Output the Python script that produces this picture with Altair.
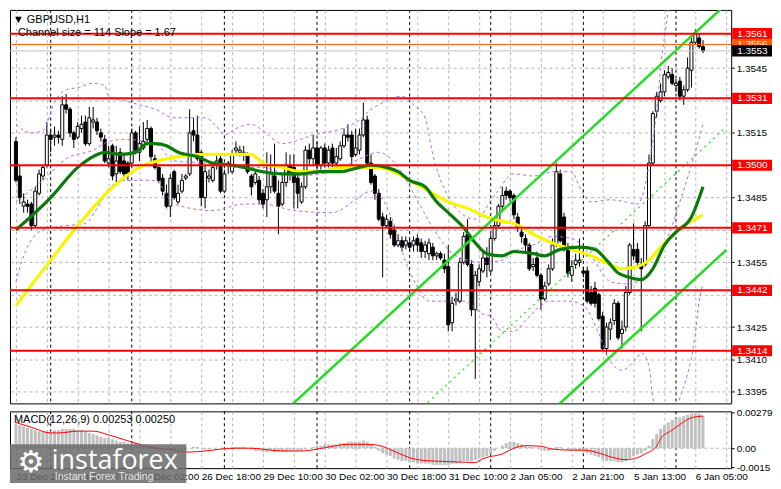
import altair as alt
import pandas as pd

# ---------------- data (H1 bars, index 0 = 23 Dec 15:00) ----------------
bar_open = [
1.3511, 1.3495, 1.3481, 1.3482, 1.3482, 1.3472, 1.3487, 1.3495, 1.3500, 1.3514,
1.3513, 1.3514, 1.3512, 1.3528, 1.3526, 1.3515, 1.3513, 1.3517, 1.3520, 1.3510,
1.3520, 1.3520, 1.3515, 1.3512, 1.3501, 1.3509, 1.3496, 1.3506, 1.3502, 1.3501,
1.3501, 1.3515, 1.3506, 1.3508, 1.3512, 1.3517, 1.3503, 1.3499, 1.3494, 1.3487,
1.3481, 1.3497, 1.3483, 1.3488, 1.3494, 1.3496, 1.3516, 1.3514, 1.3506, 1.3485,
1.3494, 1.3493, 1.3500, 1.3503, 1.3488, 1.3500, 1.3497, 1.3507, 1.3506, 1.3505,
1.3505, 1.3495, 1.3492, 1.3493, 1.3487, 1.3484, 1.3490, 1.3495, 1.3487, 1.3482,
1.3492, 1.3500, 1.3499, 1.3494, 1.3483, 1.3490, 1.3507, 1.3503, 1.3508, 1.3500,
1.3508, 1.3501, 1.3508, 1.3501, 1.3503, 1.3509, 1.3514, 1.3514, 1.3505, 1.3507,
1.3514, 1.3521, 1.3501, 1.3495, 1.3487, 1.3476, 1.3472, 1.3474, 1.3470, 1.3463,
1.3465, 1.3463, 1.3464, 1.3463, 1.3466, 1.3464, 1.3460, 1.3459, 1.3462, 1.3458,
1.3459, 1.3456, 1.3453, 1.3427, 1.3437, 1.3437, 1.3455, 1.3468, 1.3454, 1.3433,
1.3446, 1.3451, 1.3457, 1.3451, 1.3466, 1.3472, 1.3481, 1.3488, 1.3488, 1.3486,
1.3476, 1.3469, 1.3466, 1.3463, 1.3453, 1.3457, 1.3449, 1.3438, 1.3445, 1.3452,
1.3463, 1.3496, 1.3476, 1.3462, 1.3449, 1.3454, 1.3455, 1.3451, 1.3451, 1.3441,
1.3443, 1.3440, 1.3430, 1.3415, 1.3424, 1.3428, 1.3436, 1.3422, 1.3425, 1.3441,
1.3461, 1.3461, 1.3454, 1.3454, 1.3472, 1.3501, 1.3525, 1.3530, 1.3534, 1.3541,
1.3542, 1.3537, 1.3539, 1.3532, 1.3535, 1.3544, 1.3557, 1.3559, 1.3555]

bar_high = [
1.3513, 1.3500, 1.3487, 1.3484, 1.3483, 1.3490, 1.3498, 1.3500, 1.3520, 1.3517,
1.3518, 1.3516, 1.3532, 1.3533, 1.3527, 1.3516, 1.3520, 1.3523, 1.3523, 1.3527,
1.3527, 1.3522, 1.3517, 1.3514, 1.3509, 1.3510, 1.3509, 1.3508, 1.3505, 1.3502,
1.3517, 1.3516, 1.3518, 1.3520, 1.3521, 1.3518, 1.3505, 1.3500, 1.3496, 1.3491,
1.3496, 1.3498, 1.3491, 1.3496, 1.3496, 1.3526, 1.3522, 1.3523, 1.3507, 1.3500,
1.3498, 1.3500, 1.3505, 1.3505, 1.3498, 1.3502, 1.3507, 1.3511, 1.3509, 1.3509,
1.3506, 1.3496, 1.3498, 1.3495, 1.3489, 1.3506, 1.3505, 1.3510, 1.3493, 1.3496,
1.3506, 1.3505, 1.3505, 1.3496, 1.3492, 1.3509, 1.3510, 1.3514, 1.3511, 1.3509,
1.3510, 1.3509, 1.3510, 1.3508, 1.3511, 1.3517, 1.3519, 1.3516, 1.3517, 1.3517,
1.3529, 1.3523, 1.3505, 1.3496, 1.3489, 1.3478, 1.3477, 1.3476, 1.3472, 1.3468,
1.3467, 1.3467, 1.3466, 1.3467, 1.3468, 1.3466, 1.3465, 1.3466, 1.3464, 1.3460,
1.3460, 1.3459, 1.3463, 1.3439, 1.3441, 1.3457, 1.3469, 1.3475, 1.3456, 1.3451,
1.3454, 1.3460, 1.3462, 1.3468, 1.3474, 1.3482, 1.3490, 1.3490, 1.3489, 1.3487,
1.3478, 1.3471, 1.3468, 1.3464, 1.3457, 1.3460, 1.3450, 1.3446, 1.3454, 1.3466,
1.3501, 1.3498, 1.3478, 1.3464, 1.3456, 1.3459, 1.3466, 1.3453, 1.3453, 1.3444,
1.3446, 1.3441, 1.3432, 1.3427, 1.3429, 1.3438, 1.3437, 1.3428, 1.3444, 1.3464,
1.3473, 1.3464, 1.3457, 1.3474, 1.3505, 1.3525, 1.3534, 1.3538, 1.3544, 1.3546,
1.3545, 1.3540, 1.3541, 1.3537, 1.3550, 1.3559, 1.3563, 1.3561, 1.3558]

bar_low = [
1.3492, 1.3482, 1.3478, 1.3478, 1.3470, 1.3471, 1.3486, 1.3493, 1.3499, 1.3506,
1.3509, 1.3510, 1.3509, 1.3524, 1.3513, 1.3508, 1.3512, 1.3515, 1.3509, 1.3509,
1.3517, 1.3514, 1.3511, 1.3501, 1.3499, 1.3493, 1.3492, 1.3496, 1.3494, 1.3493,
1.3500, 1.3505, 1.3502, 1.3507, 1.3510, 1.3502, 1.3498, 1.3492, 1.3486, 1.3480,
1.3476, 1.3484, 1.3482, 1.3487, 1.3493, 1.3495, 1.3511, 1.3502, 1.3481, 1.3480,
1.3492, 1.3492, 1.3498, 1.3487, 1.3487, 1.3496, 1.3496, 1.3505, 1.3504, 1.3502,
1.3496, 1.3486, 1.3491, 1.3482, 1.3480, 1.3476, 1.3487, 1.3487, 1.3468, 1.3481,
1.3490, 1.3493, 1.3480, 1.3480, 1.3482, 1.3489, 1.3500, 1.3500, 1.3498, 1.3498,
1.3499, 1.3499, 1.3499, 1.3499, 1.3502, 1.3508, 1.3511, 1.3499, 1.3504, 1.3505,
1.3513, 1.3500, 1.3491, 1.3484, 1.3474, 1.3448, 1.3471, 1.3466, 1.3462, 1.3462,
1.3460, 1.3461, 1.3460, 1.3460, 1.3460, 1.3457, 1.3457, 1.3456, 1.3456, 1.3456,
1.3456, 1.3450, 1.3423, 1.3423, 1.3435, 1.3436, 1.3454, 1.3453, 1.3430, 1.3401,
1.3444, 1.3450, 1.3448, 1.3450, 1.3465, 1.3471, 1.3479, 1.3484, 1.3483, 1.3475,
1.3469, 1.3464, 1.3460, 1.3451, 1.3451, 1.3448, 1.3433, 1.3437, 1.3444, 1.3451,
1.3462, 1.3464, 1.3460, 1.3448, 1.3446, 1.3452, 1.3453, 1.3448, 1.3436, 1.3435,
1.3434, 1.3428, 1.3414, 1.3412, 1.3419, 1.3426, 1.3419, 1.3415, 1.3423, 1.3440,
1.3456, 1.3453, 1.3423, 1.3453, 1.3471, 1.3500, 1.3522, 1.3529, 1.3532, 1.3540,
1.3537, 1.3534, 1.3530, 1.3528, 1.3534, 1.3536, 1.3556, 1.3554, 1.3552]

bar_close = [
1.3493, 1.3485, 1.3483, 1.3481, 1.3472, 1.3488, 1.3496, 1.3499, 1.3514, 1.3512,
1.3514, 1.3513, 1.3528, 1.3526, 1.3515, 1.3512, 1.3518, 1.3519, 1.3510, 1.3522,
1.3521, 1.3516, 1.3513, 1.3502, 1.3503, 1.3495, 1.3502, 1.3497, 1.3496, 1.3496,
1.3515, 1.3507, 1.3510, 1.3511, 1.3517, 1.3504, 1.3499, 1.3493, 1.3488, 1.3481,
1.3494, 1.3485, 1.3487, 1.3493, 1.3495, 1.3515, 1.3514, 1.3503, 1.3485, 1.3497,
1.3495, 1.3499, 1.3502, 1.3488, 1.3496, 1.3501, 1.3505, 1.3508, 1.3507, 1.3506,
1.3497, 1.3490, 1.3496, 1.3484, 1.3482, 1.3490, 1.3496, 1.3488, 1.3481, 1.3492,
1.3500, 1.3496, 1.3492, 1.3487, 1.3490, 1.3507, 1.3503, 1.3508, 1.3500, 1.3508,
1.3501, 1.3507, 1.3501, 1.3504, 1.3509, 1.3514, 1.3513, 1.3504, 1.3508, 1.3514,
1.3521, 1.3501, 1.3492, 1.3487, 1.3475, 1.3472, 1.3475, 1.3468, 1.3463, 1.3465,
1.3462, 1.3465, 1.3462, 1.3465, 1.3463, 1.3460, 1.3463, 1.3464, 1.3458, 1.3459,
1.3457, 1.3452, 1.3426, 1.3436, 1.3438, 1.3455, 1.3467, 1.3454, 1.3433, 1.3449,
1.3452, 1.3457, 1.3454, 1.3466, 1.3472, 1.3481, 1.3486, 1.3486, 1.3485, 1.3477,
1.3471, 1.3467, 1.3463, 1.3452, 1.3454, 1.3449, 1.3438, 1.3444, 1.3452, 1.3463,
1.3497, 1.3465, 1.3462, 1.3450, 1.3453, 1.3456, 1.3456, 1.3450, 1.3437, 1.3436,
1.3436, 1.3429, 1.3415, 1.3425, 1.3427, 1.3436, 1.3420, 1.3424, 1.3441, 1.3463,
1.3458, 1.3455, 1.3452, 1.3472, 1.3501, 1.3524, 1.3532, 1.3534, 1.3542, 1.3543,
1.3538, 1.3538, 1.3532, 1.3535, 1.3545, 1.3557, 1.3561, 1.3555, 1.3553]

green_i = [0, 9, 16, 19, 23, 27, 31, 34, 36, 39, 42, 47, 51, 56, 59, 64, 69, 74, 79, 84,
           89, 92, 96, 99, 102, 106, 109, 112, 116, 119, 122, 126, 129, 134, 137, 141, 146, 150, 153, 156,
           159, 162, 165, 168, 171, 175, 178]
green_v = [1.3470, 1.3485, 1.3499, 1.3503, 1.3506, 1.3505, 1.3506, 1.3510, 1.3510, 1.3509,
           1.3506, 1.3504, 1.3501, 1.3500, 1.3499, 1.3497, 1.3496, 1.3496, 1.3497, 1.3497,
           1.3499, 1.3500, 1.3499, 1.3497, 1.3493, 1.3490, 1.3483, 1.3478, 1.3471, 1.3464,
           1.3459, 1.3458, 1.3460, 1.3459, 1.3458, 1.3461, 1.3462, 1.3461, 1.3456, 1.3450,
           1.3448, 1.3447, 1.3452, 1.3463, 1.3469, 1.3476, 1.3490]

yellow_i = [0, 9, 16, 24, 32, 39, 49, 57, 61, 64, 69, 74, 79, 84, 89, 94, 99, 103, 107, 112,
            117, 122, 126, 129, 134, 139, 144, 149, 154, 157, 161, 164, 167, 171, 174, 178]
yellow_v = [1.3435, 1.3456, 1.3472, 1.3488, 1.3499, 1.3503, 1.3505, 1.3505, 1.3505, 1.3501,
            1.3499, 1.3497, 1.3497, 1.3499, 1.3499, 1.3499, 1.3496, 1.3492, 1.3488, 1.3483,
            1.3480, 1.3476, 1.3474, 1.3473, 1.3468, 1.3464, 1.3461, 1.3458, 1.3454, 1.3452,
            1.3453, 1.3456, 1.3462, 1.3469, 1.3473, 1.3477]

bb_up_i = [0, 4, 7, 10, 13, 16, 20, 23, 24, 28, 32, 36, 41, 46, 49, 52, 54, 57, 61, 64,
           69, 77, 86, 89, 92, 94, 97, 100, 103, 106, 108, 111, 114, 119, 124, 129, 134, 139, 144, 146,
           149, 154, 158, 161, 164, 166, 167, 169, 171]
bb_up_v = [1.3519, 1.3515, 1.3516, 1.3529, 1.3535, 1.3536, 1.3538, 1.3537, 1.3532, 1.3530,
           1.3528, 1.3526, 1.3522, 1.3522, 1.3522, 1.3518, 1.3514, 1.3517, 1.3519, 1.3516,
           1.3510, 1.3514, 1.3518, 1.3521, 1.3526, 1.3528, 1.3531, 1.3532, 1.3528, 1.3522,
           1.3505, 1.3489, 1.3480, 1.3475, 1.3486, 1.3496, 1.3495, 1.3497, 1.3497, 1.3490,
           1.3483, 1.3484, 1.3483, 1.3482, 1.3500, 1.3526, 1.3545, 1.3572, 1.3600]

bb_mid_i = [0, 7, 13, 20, 24, 28, 36, 41, 49, 57, 64, 72, 82, 89, 94, 99, 103, 108, 114, 121,
            126, 129, 134, 139, 144, 149, 154, 158, 161, 164, 167, 170, 172, 175, 178]
bb_mid_v = [1.3483, 1.3493, 1.3503, 1.3507, 1.3511, 1.3512, 1.3510, 1.3502, 1.3501, 1.3499,
            1.3499, 1.3495, 1.3497, 1.3503, 1.3506, 1.3499, 1.3487, 1.3471, 1.3458, 1.3455,
            1.3456, 1.3460, 1.3463, 1.3467, 1.3466, 1.3458, 1.3446, 1.3445, 1.3446, 1.3449,
            1.3459, 1.3472, 1.3483, 1.3500, 1.3519]

bb_lo_i = [0, 2, 7, 13, 18, 21, 24, 28, 36, 41, 51, 59, 64, 72, 82, 88, 92, 96, 99, 101,
           103, 107, 116, 121, 123, 126, 129, 132, 136, 138, 143, 147, 151, 154, 157, 161, 162, 164, 165, 169,
           172, 176, 177, 178]
bb_lo_v = [1.3446, 1.3458, 1.3470, 1.3472, 1.3473, 1.3480, 1.3489, 1.3493, 1.3493, 1.3482,
           1.3479, 1.3482, 1.3482, 1.3479, 1.3478, 1.3484, 1.3488, 1.3481, 1.3467, 1.3455,
           1.3447, 1.3437, 1.3437, 1.3431, 1.3430, 1.3423, 1.3423, 1.3428, 1.3435, 1.3437,
           1.3437, 1.3435, 1.3422, 1.3409, 1.3405, 1.3411, 1.3413, 1.3407, 1.3392, 1.3378,
           1.3392, 1.3422, 1.3437, 1.3445]

chan_i = [60, 184]
chan_up = [1.3370, 1.35747]
chan_mid = [1.3313, 1.35177]
chan_lo = [1.3256, 1.34607]

levels = [1.3561, 1.3531, 1.3500, 1.3471, 1.3442, 1.3414]
ask_level = [1.3556]
bid_level = [1.3553]
price_ticks = [1.3395, 1.3410, 1.3425, 1.3440, 1.3455, 1.3470, 1.3485, 1.3500, 1.3515, 1.3530, 1.3545]
hidden_ticks = [1.3440, 1.3470, 1.3500, 1.3530]   # labels covered by the level boxes

macd_hist = [
0.0019, 0.0018, 0.0017, 0.0016, 0.0015, 0.0014, 0.0013, 0.0013, 0.0013, 0.0013,
0.0014, 0.0014, 0.0015, 0.0015, 0.0015, 0.0015, 0.0014, 0.0014, 0.0013, 0.0012,
0.0011, 0.0010, 0.0009, 0.0008, 0.0008, 0.0007, 0.0006, 0.0005, 0.0005, 0.0004,
0.0004, 0.0004, 0.0003, 0.0003, 0.0003, 0.0002, 0.0001, 0.0001, 0.0000, -0.0001,
-0.0001, -0.0001, -0.0002, -0.0002, -0.0001, 0.0000, 0.0001, 0.0001, 0.0000, -0.0001,
-0.0001, 0.0000, 0.0000, 0.0000, -0.0001, 0.0000, 0.0001, 0.0001, 0.0001, 0.0001,
0.0000, -0.0001, -0.0002, -0.0002, -0.0003, -0.0003, -0.0002, -0.0003, -0.0003, -0.0003,
-0.0003, -0.0002, -0.0002, -0.0002, -0.0002, -0.0001, 0.0000, 0.0001, 0.0002, 0.0002,
0.0003, 0.0003, 0.0003, 0.0003, 0.0004, 0.0004, 0.0005, 0.0005, 0.0005, 0.0005,
0.0006, 0.0005, 0.0003, 0.0001, -0.0002, -0.0004, -0.0005, -0.0006, -0.0008, -0.0009,
-0.0010, -0.0010, -0.0011, -0.0011, -0.0012, -0.0012, -0.0012, -0.0012, -0.0013, -0.0013,
-0.0013, -0.0013, -0.0013, -0.0012, -0.0012, -0.0011, -0.0010, -0.0010, -0.0010, -0.0009,
-0.0008, -0.0007, -0.0006, -0.0004, -0.0002, 0.0000, 0.0002, 0.0004, 0.0005, 0.0005,
0.0004, 0.0003, 0.0002, 0.0001, 0.0001, 0.0000, -0.0001, -0.0002, -0.0002, -0.0001,
0.0001, 0.0001, 0.0000, -0.0001, -0.0002, -0.0002, -0.0002, -0.0003, -0.0004, -0.0005,
-0.0006, -0.0007, -0.0009, -0.0010, -0.0010, -0.0010, -0.0011, -0.0011, -0.0010, -0.0008,
-0.0006, -0.0005, -0.0004, -0.0002, 0.0002, 0.0007, 0.0011, 0.0015, 0.0018, 0.0020,
0.0022, 0.0023, 0.0024, 0.0025, 0.0026, 0.0027, 0.0028, 0.0027, 0.00253]

sig_i = [0, 4, 9, 11, 16, 20, 24, 28, 32, 36, 41, 44, 49, 53, 57, 61, 66, 70, 74, 78,
         82, 86, 91, 94, 99, 102, 106, 112, 119, 121, 126, 129, 132, 136, 139, 144, 147, 151, 154, 158,
         161, 163, 166, 167, 170, 172, 175, 178]
sig_v = [0.0020, 0.00163, 0.00119, 0.00119, 0.00133, 0.00133, 0.00104, 0.00067, 0.0003, 0.0,
         -0.00015, -0.0003, -0.00022, -0.00007, 0.0, 0.0, -0.00015, -0.00022, -0.00022, -0.00007,
         0.00015, 0.0003, 0.0003, 0.00022, -0.00037, -0.00074, -0.00096, -0.00104, -0.00111, -0.00081,
         -0.00044, 0.0, 0.0002, 0.00015, -0.00007, -0.00015, -0.00015, -0.00037, -0.00067, -0.00089,
         -0.00074, -0.00044, 0.00015, 0.00074, 0.00141, 0.00185, 0.00237, 0.0025]
macd_ticks = [0.00279, 0.0, -0.0015]

day_starts = [9, 30, 54, 78, 102, 123, 147, 171]
xlab_i = [0, 16, 32, 48, 64, 80, 96, 112, 128, 144, 160, 176]
xlab_text = ["23 Dec 2025", "24 Dec 07:00", "26 Dec 02:00", "26 Dec 18:00", "29 Dec 10:00",
             "30 Dec 02:00", "30 Dec 18:00", "31 Dec 10:00", "2 Jan 05:00", "2 Jan 21:00",
             "5 Jan 13:00", "6 Jan 05:00"]

# ---------------- layout / style ----------------
FONT = "Liberation Sans"
W, H1, H2 = 724, 395, 57
GRID = "#b4b4b4"
PURPLE = "#b468e6"
LIME = "#22dd22"

xs = alt.Scale(domain=[-0.25, 184], nice=False, zero=False)
ys = alt.Scale(domain=[1.33896, 1.3572], nice=False, zero=False)
ms = alt.Scale(domain=[-0.00155, 0.00287], nice=False, zero=False)

grid_vals = list(range(0, 185, 8))
x_axis_main = alt.Axis(values=grid_vals, labels=False, ticks=False, domain=False, grid=True,
                       gridDash=[3, 3], gridColor=GRID, title=None)
lab_expr = " : ".join(f"datum.value == {i} ? '{t}'" for i, t in zip(xlab_i, xlab_text)) + " : ''"
x_axis_macd = alt.Axis(values=grid_vals, labelExpr=lab_expr, labelAlign="left", labelOverlap=False,
                       labelFlush=False, labelBound=False, ticks=False, domain=False, grid=True,
                       gridDash=[3, 3], gridColor=GRID, title=None, labelPadding=3,
                       labelFont=FONT, labelFontSize=10, labelColor="black")
hide_expr = " || ".join(f"abs(datum.value - {v}) < 0.00001" for v in hidden_ticks)
y_axis_main = alt.Axis(orient="right", values=price_ticks, grid=True, gridDash=[3, 3],
                       gridColor=GRID, tickSize=3, tickColor="black", domain=False, labelPadding=2,
                       title=None, labelFont=FONT, labelFontSize=10, labelColor="black",
                       labelExpr=f"({hide_expr}) ? '' : format(datum.value, '.4f')")
y_axis_macd = alt.Axis(orient="right", values=macd_ticks, grid=False, tickSize=3, tickColor="black",
                       domain=False, labelPadding=2, title=None, labelFont=FONT, labelFontSize=10,
                       labelColor="black",
                       labelExpr="datum.value == 0 ? '0.00' : (datum.value > 0 ? '0.00279' : '-0.0015')")


def X(f="i"):
    return alt.X(f + ":Q", scale=xs, axis=x_axis_main)


def Y(f="v"):
    return alt.Y(f + ":Q", scale=ys, axis=y_axis_main)


def XM(f="i"):
    return alt.X(f + ":Q", scale=xs, axis=x_axis_macd)


def YM(f="v"):
    return alt.Y(f + ":Q", scale=ms, axis=y_axis_macd)


def ldf(ix, vals):
    return pd.DataFrame({"i": ix, "v": vals})


one = pd.DataFrame({"a": [0]})

cdf = pd.DataFrame({"i": list(range(len(bar_open))), "o": bar_open, "h": bar_high,
                    "l": bar_low, "c": bar_close})

seps = alt.Chart(pd.DataFrame({"i": day_starts})).mark_rule(
    color="black", strokeDash=[3, 3], strokeWidth=1).encode(x=X())
wicks = alt.Chart(cdf).mark_rule(color="black", strokeWidth=1).encode(
    x=X(), y=Y("l"), y2=alt.Y2("h:Q"))
bodies = alt.Chart(cdf).mark_bar(size=3, stroke="black", strokeWidth=1).encode(
    x=X(), y=Y("o"), y2=alt.Y2("c:Q"),
    fill=alt.condition("datum.c >= datum.o", alt.value("white"), alt.value("black")))


def band(ix, vals):
    return alt.Chart(ldf(ix, vals)).mark_line(
        color=PURPLE, strokeDash=[3, 3], strokeWidth=1, clip=True, interpolate="monotone").encode(x=X(), y=Y())


bb_up = band(bb_up_i, bb_up_v)
bb_mid = band(bb_mid_i, bb_mid_v)
bb_lo = band(bb_lo_i, bb_lo_v)
yellow = alt.Chart(ldf(yellow_i, yellow_v)).mark_line(
    color="#f6f600", strokeWidth=3.2, interpolate="monotone", clip=True).encode(x=X(), y=Y())
green = alt.Chart(ldf(green_i, green_v)).mark_line(
    color="#0b7a0b", strokeWidth=3.2, interpolate="monotone", clip=True).encode(x=X(), y=Y())
ch_up = alt.Chart(ldf(chan_i, chan_up)).mark_line(color=LIME, strokeWidth=2.5, clip=True).encode(x=X(), y=Y())
ch_lo = alt.Chart(ldf(chan_i, chan_lo)).mark_line(color=LIME, strokeWidth=2.5, clip=True).encode(x=X(), y=Y())
ch_mid = alt.Chart(ldf(chan_i, chan_mid)).mark_line(
    color=LIME, strokeWidth=1.2, strokeDash=[2, 4], clip=True).encode(x=X(), y=Y())

red_lines = alt.Chart(pd.DataFrame({"v": levels})).mark_rule(color="#ff0000", strokeWidth=2).encode(y=Y())
ask_line = alt.Chart(pd.DataFrame({"v": ask_level})).mark_rule(color="#ff5a00", strokeWidth=1).encode(y=Y())
bid_line = alt.Chart(pd.DataFrame({"v": bid_level})).mark_rule(color="#c0c0c0", strokeWidth=1).encode(y=Y())


def price_box(vals, fill, txt="white"):
    b = alt.Chart(pd.DataFrame({"v": vals})).transform_calculate(
        lo="datum.v - 0.00026", hi="datum.v + 0.00026", lab="format(datum.v, '.4f')")
    r = b.mark_rect(color=fill).encode(x=alt.value(W + 1), x2=alt.value(W + 41), y=Y("lo"), y2=alt.Y2("hi:Q"))
    t = b.mark_text(align="left", baseline="middle", color=txt, font=FONT, fontSize=10).encode(
        x=alt.value(W + 6), y=Y(), text="lab:N")
    return r + t


boxes = price_box(levels, "#ff0000") + price_box(ask_level, "#ff5a00") + price_box(bid_level, "#000000")

t1 = alt.Chart(one).mark_text(align="left", baseline="middle", font=FONT, fontSize=11, color="black").encode(
    x=alt.value(3), y=alt.value(10), text=alt.value("\u25bc GBPUSD,H1"))
t2 = alt.Chart(one).mark_text(align="left", baseline="middle", font=FONT, fontSize=11, color="black").encode(
    x=alt.value(8), y=alt.value(23), text=alt.value("Channel size = 114 Slope = 1.67"))

main = alt.layer(seps, wicks, bodies, bb_up, bb_mid, bb_lo, yellow, green, ch_up, ch_lo, ch_mid,
                 red_lines, ask_line, bid_line, boxes, t1, t2).properties(width=W, height=H1)

# ---------------- MACD panel ----------------
mdf = pd.DataFrame({"i": list(range(len(macd_hist))), "v": macd_hist})
m_seps = alt.Chart(pd.DataFrame({"i": day_starts})).mark_rule(
    color="black", strokeDash=[3, 3], strokeWidth=1).encode(x=XM())
hist = alt.Chart(mdf).transform_calculate(z="0").mark_bar(size=3, color="#c0c0c0").encode(
    x=XM(), y=YM(), y2=alt.Y2("z:Q"))
zero = alt.Chart(one).transform_calculate(v="0").mark_rule(
    color=GRID, strokeDash=[3, 3], strokeWidth=1).encode(y=YM())
sig = alt.Chart(ldf(sig_i, sig_v)).mark_line(color="#ff0000", strokeWidth=1, interpolate="monotone").encode(
    x=XM(), y=YM())
mtxt = alt.Chart(one).mark_text(align="left", baseline="middle", font=FONT, fontSize=11, color="black").encode(
    x=alt.value(4), y=alt.value(9), text=alt.value("MACD(12,26,9) 0.00253 0.00250"))

logo_box = alt.Chart(one).mark_rect(color="#6a6a6a", opacity=0.85).encode(
    x=alt.value(0), x2=alt.value(177), y=alt.value(33), y2=alt.value(72))
logo_gear = alt.Chart(one).mark_text(align="center", baseline="middle", font="DejaVu Sans", fontSize=30,
                                     color="white").encode(x=alt.value(21), y=alt.value(52), text=alt.value("\u2699"))
logo_word = alt.Chart(one).mark_text(align="left", baseline="alphabetic", font="Open Sans", fontSize=27,
                                     color="white").encode(x=alt.value(42), y=alt.value(58), text=alt.value("instaforex"))
logo_sub = alt.Chart(one).mark_text(align="left", baseline="middle", font=FONT, fontSize=10.5,
                                    color="#e8e8e8").encode(x=alt.value(45), y=alt.value(66),
                                                            text=alt.value("Instant Forex Trading"))

macd = alt.layer(m_seps, zero, hist, sig, mtxt, logo_box, logo_gear, logo_word, logo_sub).properties(
    width=W, height=H2)

chart = alt.vconcat(main, macd, spacing=2).properties(
    padding={"left": 0, "right": 0, "top": 0, "bottom": 0}, background="white"
).configure_view(stroke="black", strokeWidth=1)

chart.save("out.html", embed_options={"renderer": "svg", "actions": False})
